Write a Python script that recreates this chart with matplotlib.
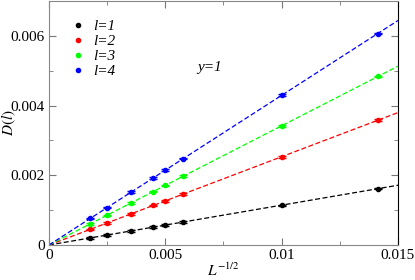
import numpy as np
import matplotlib
matplotlib.use('Agg')
import matplotlib.pyplot as plt
from matplotlib.ticker import MultipleLocator
from matplotlib.lines import Line2D

# L^{-1/2} values
x_vals = [0.001768, 0.0025, 0.003536, 0.004472, 0.005, 0.005774, 0.01, 0.01414]

# D(l) for l=1..4
d_l1 = [0.000200, 0.000287, 0.000405, 0.000512, 0.000570, 0.000660, 0.001140, 0.001620]
d_l2 = [0.000450, 0.000635, 0.000895, 0.001135, 0.001268, 0.001462, 0.002530, 0.003585]
d_l3 = [0.000605, 0.000855, 0.001210, 0.001530, 0.001710, 0.001975, 0.003420, 0.004840]
d_l4 = [0.000765, 0.001075, 0.001520, 0.001920, 0.002150, 0.002480, 0.004300, 0.006070]

labels = ['l=1', 'l=2', 'l=3', 'l=4']
colors = ['black', '#ff0000', '#00ff00', '#0000ff']

plt.rcParams['font.family'] = ['Liberation Serif', 'DejaVu Serif']
plt.rcParams['mathtext.fontset'] = 'stix'

fig = plt.figure(figsize=(4.15, 2.8), dpi=100)
ax = fig.add_axes([0.118, 0.125, 0.841, 0.871])

xfit = np.array([0.0, 0.015])
handles = []
for ys, lab, c in zip([d_l1, d_l2, d_l3, d_l4], labels, colors):
    ax.errorbar(x_vals, ys, yerr=0.00002, fmt='o', color=c, ms=3,
                capsize=3, elinewidth=0.8)
    k = np.sum(np.array(x_vals) * np.array(ys)) / np.sum(np.array(x_vals) ** 2)
    ax.plot(xfit, k * xfit, '--', color=c, lw=0.9, dashes=(4, 2))
    handles.append(Line2D([], [], ls='none', marker='o', ms=3, color=c, label=lab))

ax.set_xlim(0, 0.015)
ax.set_ylim(0, 0.007)
ax.xaxis.set_minor_locator(MultipleLocator(0.0025))
ax.yaxis.set_minor_locator(MultipleLocator(0.001))
ax.set_xticks([0, 0.005, 0.01, 0.015])
ax.set_xticklabels(['0', '0.005', '0.01', '0.015'])
ax.set_yticks([0, 0.002, 0.004, 0.006])
ax.set_yticklabels(['0', '0.002', '0.004', '0.006'])
ax.tick_params(which='both', direction='in', top=True, right=True,
               labelsize=11, color='#777777')
ax.tick_params(which='major', length=5, pad=3)
ax.tick_params(which='minor', length=3)
for side in ['left', 'top', 'bottom']:
    ax.spines[side].set_color('#888888')
ax.spines['right'].set_color('black')

ax.set_xlabel('$L^{-1/2}$', fontsize=11, va='bottom')
ax.set_ylabel('$D(l)$', fontsize=11)
ax.xaxis.set_label_coords(0.5, -0.138)
ax.yaxis.set_label_coords(-0.088, 0.5)
ax.text(0.0069, 0.0051, 'y=1', fontsize=11, style='italic',
        ha='center', va='center')

ax.legend(handles=handles, loc='upper left', bbox_to_anchor=(0.065, 0.925),
          frameon=False, handlelength=0.8, handletextpad=0.6,
          labelspacing=0.08, borderaxespad=0, borderpad=0,
          prop={'style': 'italic', 'size': 11})

fig.savefig('out.png', dpi=100)
